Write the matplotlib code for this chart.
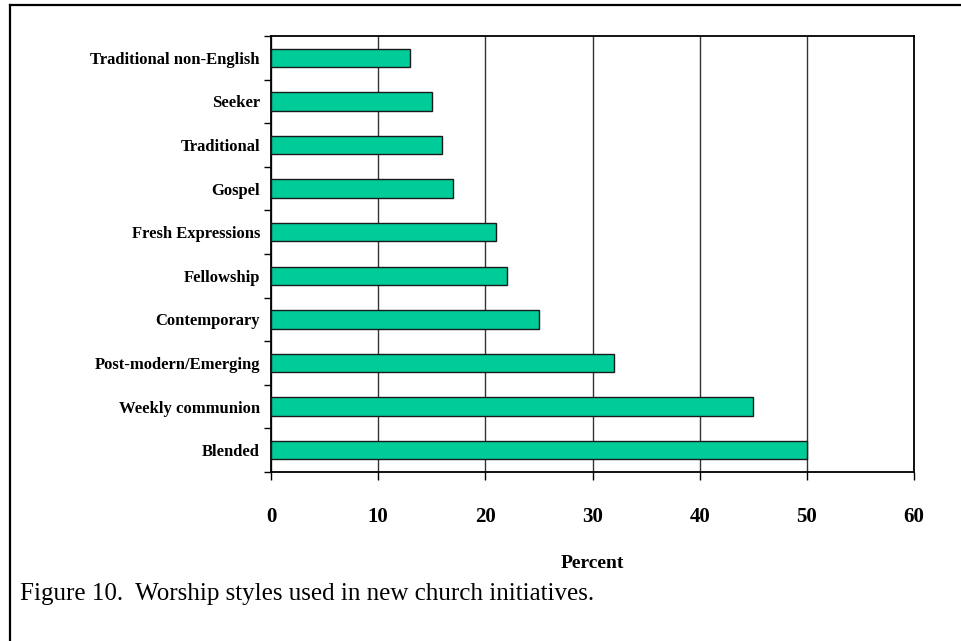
import matplotlib
matplotlib.use("Agg")
import matplotlib.pyplot as plt
from matplotlib.lines import Line2D
import numpy as np

# worship styles, top to bottom
styles = [
    "Traditional non-English",
    "Seeker",
    "Traditional",
    "Gospel",
    "Fresh Expressions",
    "Fellowship",
    "Contemporary",
    "Post-modern/Emerging",
    "Weekly communion",
    "Blended",
]
percent = [13, 15, 16, 17, 21, 22, 25, 32, 45, 50]
x_ticks = [0, 10, 20, 30, 40, 50, 60]

SERIF = ["Liberation Serif", "DejaVu Serif"]
BAR_COLOR = "#00cc99"

fig = plt.figure(figsize=(9.62, 6.41), dpi=100)
ax = fig.add_axes([271 / 962, 1 - 472 / 641, 643 / 962, 436 / 641])

y = np.arange(len(styles))
ax.barh(y, percent, height=0.42, color=BAR_COLOR, edgecolor="#1a1a1a",
        linewidth=1.0, zorder=3)

ax.set_xlim(0, 60)
ax.set_ylim(len(styles) - 0.5, -0.5)
ax.set_xticks(x_ticks)
ax.set_xticklabels([str(t) for t in x_ticks], family=SERIF,
                   fontweight="bold", fontsize=15)
ax.tick_params(axis="x", direction="out", length=6, width=1.0, pad=19)

# category labels sit between the boundary ticks
ax.set_yticks(y)
ax.set_yticklabels(styles, family=SERIF, fontweight="bold", fontsize=12)
ax.tick_params(axis="y", which="major", length=0, pad=8)
ax.set_yticks(np.arange(len(styles) + 1) - 0.5, minor=True)
ax.tick_params(axis="y", which="minor", direction="out", length=5, width=1.0)

ax.xaxis.grid(True, color="#333333", linewidth=1.0, zorder=0)
for side in ax.spines.values():
    side.set_linewidth(1.3)
    side.set_color("black")

ax.set_xlabel("Percent", family=SERIF, fontweight="bold", fontsize=14,
              labelpad=20)

fig.text(20 / 962, 1 - 594 / 641,
         "Figure 10.  Worship styles used in new church initiatives.",
         family=SERIF, fontsize=18, ha="left", va="center")

# frame around the figure (left and top edges only)
fig.add_artist(Line2D([10 / 962, 10 / 962], [0, 1 - 5 / 641],
                      transform=fig.transFigure, color="black", linewidth=1.6))
fig.add_artist(Line2D([10 / 962, 1], [1 - 5 / 641, 1 - 5 / 641],
                      transform=fig.transFigure, color="black", linewidth=1.6))

fig.savefig("out.png", dpi=100, facecolor="white")
